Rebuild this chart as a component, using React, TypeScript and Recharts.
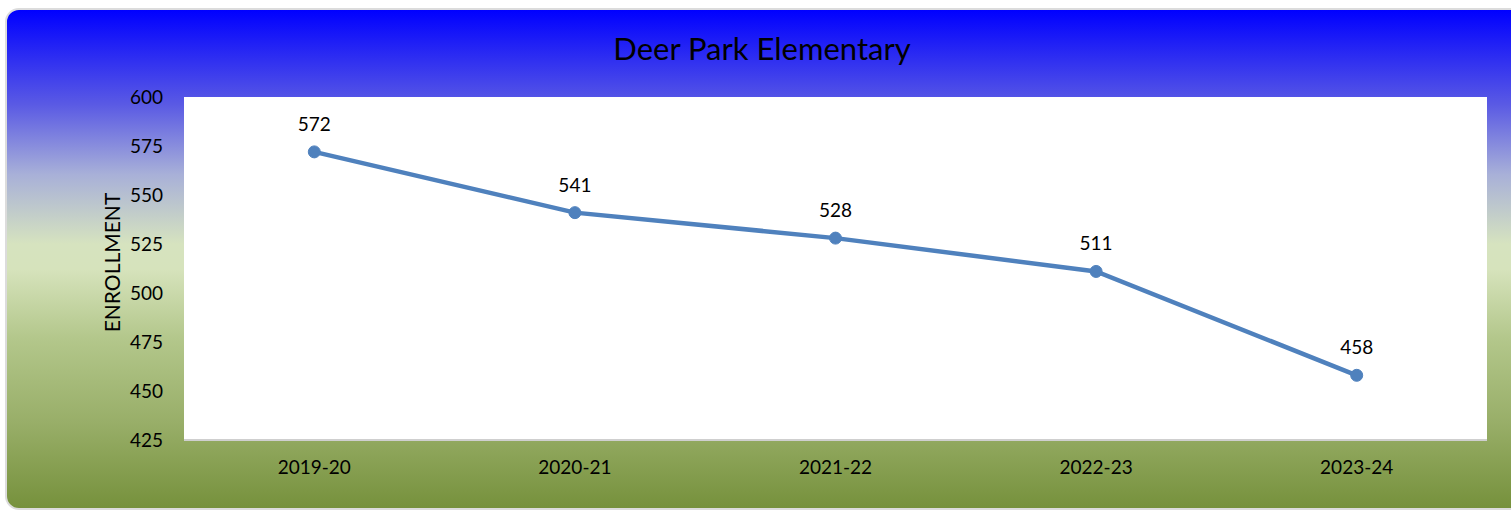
import React from "react";
import { LineChart, Line, XAxis, YAxis, CartesianGrid, LabelList } from "recharts";

// school years and enrollment counts
const years = ["2019-20", "2020-21", "2021-22", "2022-23", "2023-24"];
const enrollment = [572, 541, 528, 511, 458];
const yTicks = [425, 450, 475, 500, 525, 550, 575, 600];

const data = years.map((year, i) => ({ year, enrollment: enrollment[i] }));

const FONT = "Lato, 'Open Sans', sans-serif";

function AxisTitle(props: any) {
  const { viewBox } = props;
  const cx = viewBox.x + 111;
  const cy = viewBox.y + viewBox.height / 2 - 6;
  return (
    <text
      x={cx}
      y={cy}
      transform={`rotate(-90, ${cx}, ${cy})`}
      textAnchor="middle"
      dominantBaseline="central"
      fontFamily={FONT}
      fontSize={21}
      fill="#000"
    >
      ENROLLMENT
    </text>
  );
}

export default function App() {
  return (
    <div style={{ position: "absolute", left: 0, top: 0, width: 1511, height: 512, overflow: "hidden" }}>
      <div
        style={{
          position: "absolute",
          left: 5,
          top: 8,
          width: 1530,
          height: 502,
          borderRadius: 14,
          border: "2px solid #dcdcdc",
          boxSizing: "border-box",
          background:
            "linear-gradient(to bottom, #0000ff 0%, #5a5ae4 19%, #a8b0d8 33%, #d6e3bf 47%, #d6e3bc 52%, #b3c78b 66%, #98ae68 83%, #76913c 100%)",
        }}
      />
      <div
        style={{
          position: "absolute",
          left: 0,
          top: 29,
          width: 1524,
          textAlign: "center",
          fontFamily: FONT,
          fontSize: 31,
          color: "#000",
        }}
      >
        Deer Park Elementary
      </div>
      <div style={{ position: "absolute", left: 0, top: 0 }}>
        <LineChart width={1511} height={512} data={data} margin={{ top: 97, right: 24, bottom: 0, left: 0 }}>
          <CartesianGrid horizontal={false} vertical={false} fill="#ffffff" />
          <XAxis
            dataKey="year"
            scale="band"
            axisLine={{ stroke: "#cfcfcf", strokeWidth: 2 }}
            tickLine={false}
            tickSize={0}
            tickMargin={21}
            tick={{ fill: "#000", fontFamily: FONT, fontSize: 19 }}
            height={72}
          />
          <YAxis
            domain={[425, 600]}
            ticks={yTicks}
            interval={0}
            width={184}
            axisLine={false}
            tickLine={false}
            tickSize={0}
            tickMargin={21}
            tick={{ fill: "#000", fontFamily: FONT, fontSize: 19 }}
            label={<AxisTitle />}
          />
          <Line
            type="linear"
            dataKey="enrollment"
            stroke="#4f81bd"
            strokeWidth={4.5}
            dot={{ r: 6, fill: "#4f81bd", stroke: "#4f81bd", strokeWidth: 1 }}
            isAnimationActive={false}
          >
            <LabelList
              dataKey="enrollment"
              position="top"
              offset={21}
              fill="#000"
              fontFamily={FONT}
              fontSize={19}
            />
          </Line>
        </LineChart>
      </div>
    </div>
  );
}
